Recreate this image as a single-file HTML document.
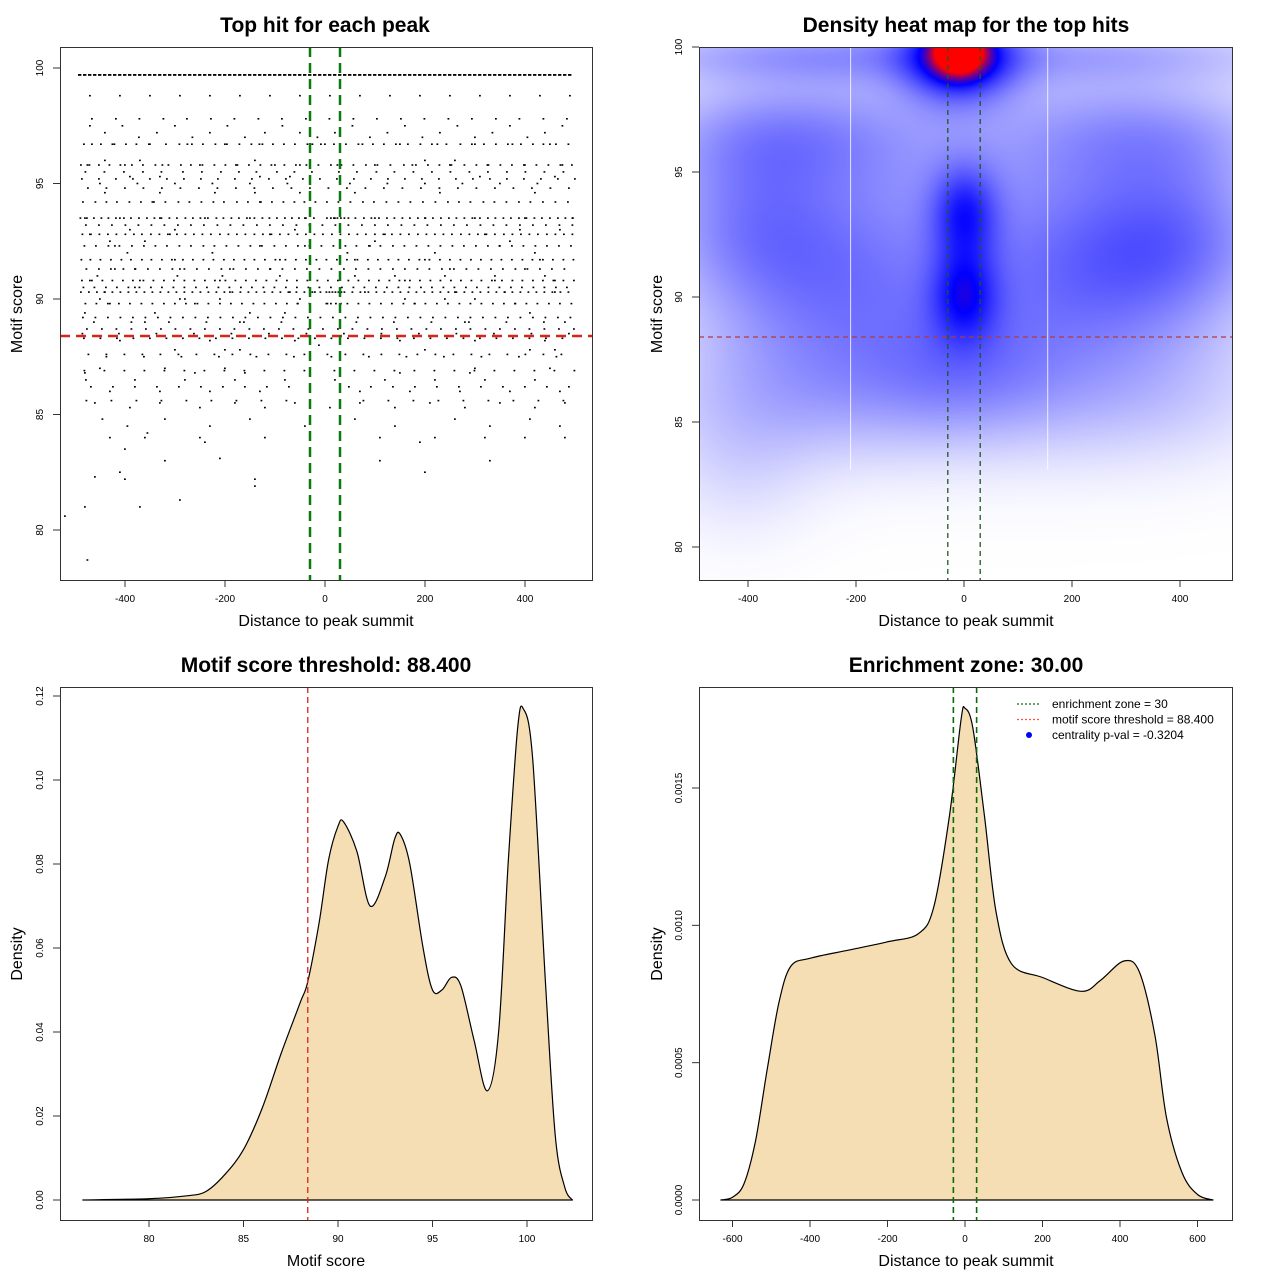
<!DOCTYPE html>
<html><head><meta charset="utf-8">
<style>
html,body{margin:0;padding:0;background:#fff;}
svg text{font-family:"Liberation Sans",Arial,sans-serif;}
#wrap{position:relative;width:1280px;height:1280px;}
#heat{position:absolute;left:699px;top:47px;}
#main{position:absolute;left:0;top:0;}
</style></head>
<body>
<div id="wrap">
<canvas id="heat" width="533" height="533"></canvas>
<svg id="main" width="1280" height="1280" xmlns="http://www.w3.org/2000/svg"></svg>
</div>
<script>
// ---------- data ----------
const scatterX = [-480,-470,-455,-440,-430,-410,-395,-380,-360,-345,-330,-310,-295,-280,-260,-240,-225,-205,-190,-170,-150,-130,-110,-90,-70,-55,-40,-20,5,20,45,60,80,100,120,140,160,180,200,220,240,260,280,300,320,340,360,380,400,420,440,460,480,495,
-475,-450,-425,-400,-375,-350,-325,-300,-275,-250,-225,-200,-175,-150,-125,-100,-75,-50,-25,0,25,50,75,100,125,150,175,200,225,250,275,300,325,350,375,400,425,450,475,
-485,-462,-437,-412,-387,-362,-337,-312,-287,-262,-237,-212,-187,-162,-137,-112,-87,-62,-37,-12,13,38,63,88,113,138,163,188,213,238,263,288,313,338,363,388,413,438,463,488,
-470,-440,-405,-372,-336,-300,-265,-230,-195,-160,-120,-85,-50,-15,20,55,90,125,160,195,230,265,300,335,370,405,440,475,
-478,-430,-380,-330,-280,-230,-180,-130,-80,-30,20,70,120,170,220,270,320,370,420,470,
-470,-410,-350,-290,-230,-170,-110,-50,10,70,130,190,250,310,370,430,490,
-460,-390,-330,-250,-180,-120,-60,10,70,140,210,280,350,420,480,
-445,-395,-320,-230,-150,-40,60,140,260,330,410,470,
-430,-360,-250,-120,110,220,320,400,480,
-420,-300,-130,-90,-40,60,90,200,350,430,
-470,-370,-210,160,340,460,
-440,-330,-220,-140,-50,30,60,230,420,
-390,-300,-60,390,470,
-420,-380,-290,-190,-110,250,400,
-480,-340,-150,-80,410,
-450,-290,-210,-50,240,300,
-430,-360,100,370,
-410,-230,-60,150,300,440,
-450,-320,-200,300,450,
-440,-370,-140,200,260,
-390,-330,-130,-70,310,460,
-300,-200,-170,200,410,460,
-480,-260,-160,150,290,
-320,110,330,
-410,-140,200,
-355,190,
-400,-240,
-460,-210,
-400,-140,
-480,-290,
-370,
-520,
-475];
const scatterY = [93.5,92.8,91,90.3,89.8,93.5,92,90.5,89,94.2,93.5,92.8,91,90,89.8,93.5,92,91,90.3,89,93.5,94.2,92.8,91,90.3,89.8,93.5,90.3,89.8,93.5,92,91,90.3,93.5,92.8,91,90,89.8,93.5,92,91,90.3,89,93.5,92.8,91,90.3,89.8,93.5,92,91,90.3,89,93.5,
95.8,95,96.7,95.8,95,96.7,95.8,95,96.7,95.8,95,96.7,95.8,95,96.7,95.8,95,95.8,96.7,96.7,95.8,95,96.7,95.8,95,96.7,95.8,95,96.7,95.8,95,96.7,95.8,95,96.7,95.8,95,96.7,95.8,
88.5,89,87.5,88.5,89,87.5,88.5,89,87.5,88.5,89,87.5,88.5,89,87.5,88.5,89,87.5,88.5,88,87.5,88.5,89,87.5,88.5,89,87.5,88.5,89,87.5,88.5,89,87.5,88.5,89,87.5,88.5,89,87.5,88.5,
97.5,97.2,97.5,97,97.2,97.5,97,97.2,97.5,97,97.2,97.5,97.2,97,97.2,97.5,97,97.2,97.5,97,97.2,97.5,97,97.2,97.5,97,97.2,97.5,
86.5,86,86.5,86,86.5,86,86.5,86,86.5,86,86.5,86,86.5,86,86.5,86,86.5,86,86.5,86,
98.8,98.8,98.8,98.8,98.8,98.8,98.8,98.8,98.8,98.8,98.8,98.8,98.8,98.8,98.8,98.8,98.8,
85.5,85.3,85.5,85.3,85.5,85.3,85.5,85.3,85.5,85.3,85.5,85.3,85.5,85.3,85.5,
84.8,84.5,84.8,84.5,84.8,84.5,84.8,84.5,84.8,84.5,84.8,84.5,
84,84,84,84,84,84,84,84,84,
92.3,91.7,92.3,91.7,92.3,91.7,92.3,91.7,92.3,91.7,
90.8,90.8,90.8,90.8,90.8,90.8,
94.6,94.6,94.6,94.6,94.6,94.6,94.6,94.6,94.6,
93,93,93,93,93,
91.3,91.3,91.3,91.3,91.3,91.3,91.3,
89.4,89.4,89.4,89.4,89.4,
90,90,90,90,90,90,
92.5,92.5,92.5,92.5,
88.2,88.2,88.2,88.2,88.2,88.2,
87,87,87,87,87,
96,96,96,96,96,
95.3,95.3,95.3,95.3,95.3,95.3,
87.8,87.8,87.8,87.8,87.8,87.8,
86.8,86.8,86.8,86.8,86.8,
83,83,83,
82.5,82.2,82.5,
84.2,83.8,
83.5,83.8,
82.3,83.1,
82.2,81.9,
81,81.3,
81,
80.6,
78.7];
// extra hits grouped by score level (score, then x positions)
const rowScores = [96.7,95.8,95.5,94.2,93.5,93.2,92.8,92.3,91.7,91.3,90.8,90.5,90.3,89.8,89.2,88.7,88.3,87.6,86.9,86.2,85.6,95.2,94.8,97.8];
const rowXs = [
"-482 -466 -448 -421 -398 -377 -352 -318 -291 -266 -244 -219 -196 -171 -147 -131 -104 -82 -60 -35 -8 18 42 67 96 118 142 166 191 214 243 271 294 318 342 366 392 416 437 462 487",
"-488 -471 -452 -431 -409 -386 -364 -339 -313 -288 -268 -245 -221 -199 -178 -152 -129 -107 -81 -58 -37 -13 12 33 57 82 105 131 158 182 206 229 253 279 303 327 351 374 398 423 447 471 494",
"-479 -441 -402 -364 -327 -284 -246 -208 -172 -137 -96 -61 -26 28 64 103 139 177 214 251 289 326 364 401 439 477",
"-484 -459 -437 -416 -391 -368 -342 -319 -293 -271 -247 -223 -202 -176 -154 -128 -106 -83 -61 -41 -19 4 27 51 76 98 123 147 171 196 221 246 268 291 317 339 363 388 411 436 461 486",
"-489 -476 -462 -447 -433 -418 -402 -388 -372 -356 -341 -327 -311 -296 -279 -264 -249 -234 -217 -203 -187 -172 -156 -141 -125 -111 -96 -80 -66 -52 -38 -22 4 12 18 25 32 39 47 61 78 93 108 124 139 155 170 186 201 216 232 248 263 279 295 310 326 341 357 372 388 403 419 434 450 466 481 496",
"-478 -452 -426 -399 -373 -347 -321 -294 -268 -242 -215 -189 -163 -136 -110 -84 -57 -31 -5 21 47 74 100 126 153 179 205 232 258 284 311 337 363 390 416 442 469 495",
"-485 -468 -451 -434 -417 -399 -382 -366 -348 -331 -314 -296 -279 -262 -245 -228 -210 -193 -176 -159 -141 -124 -107 -90 -73 -55 -38 -21 -4 14 31 48 65 82 100 117 134 151 168 186 203 220 237 254 272 289 306 323 340 358 375 392 409 426 444 461 478 495",
"-481 -458 -433 -411 -386 -362 -339 -316 -291 -268 -243 -221 -197 -173 -149 -126 -101 -78 -54 -31 -7 17 41 63 88 111 136 159 183 207 231 255 278 302 326 349 374 397 421 444 468 492",
"-487 -469 -449 -428 -407 -388 -366 -347 -326 -306 -284 -264 -243 -223 -202 -182 -161 -141 -120 -99 -79 -58 -38 -17 3 24 44 65 86 106 127 147 168 189 209 230 250 271 292 312 333 353 374 395 415 436 456 477 497",
"-477 -452 -428 -403 -379 -354 -330 -305 -281 -256 -232 -207 -183 -158 -134 -109 -85 -60 -36 -11 13 38 62 87 111 136 160 185 209 234 258 283 307 332 356 381 405 430 454 479",
"-486 -466 -445 -425 -404 -384 -363 -343 -322 -302 -281 -261 -240 -220 -199 -179 -158 -138 -117 -97 -76 -56 -35 -15 6 26 47 67 88 108 129 149 170 190 211 231 252 272 293 313 334 354 375 395 416 436 457 477 498",
"-483 -461 -438 -416 -393 -371 -348 -326 -303 -281 -258 -236 -213 -191 -168 -146 -123 -101 -78 -56 -33 -11 12 34 57 79 102 124 147 169 192 214 237 259 282 304 327 349 372 394 417 439 462 484",
"-488 -472 -456 -441 -425 -409 -393 -377 -361 -345 -329 -313 -297 -281 -265 -249 -233 -217 -201 -185 -169 -153 -137 -121 -105 -89 -73 -57 -41 -25 -9 3 9 15 21 27 33 39 55 71 87 103 119 135 151 167 183 199 215 231 247 263 279 295 311 327 343 359 375 391 407 423 439 455 471 487",
"-479 -457 -434 -412 -390 -367 -345 -322 -300 -278 -255 -233 -210 -188 -166 -143 -121 -98 -76 -54 -31 3 12 22 32 45 67 89 112 134 157 179 201 224 246 269 291 313 336 358 381 403 425 448 470 493",
"-484 -459 -434 -409 -384 -359 -334 -309 -284 -259 -234 -209 -184 -159 -134 -109 -84 -59 -34 -9 16 41 66 91 116 141 166 191 216 241 266 291 316 341 366 391 416 441 466 491",
"-476 -446 -417 -387 -358 -328 -299 -269 -240 -210 -181 -151 -122 -92 -63 -33 -4 26 55 85 114 144 173 203 232 262 291 321 350 380 409 439 468 498",
"-482 -449 -416 -383 -350 -317 -284 -251 -218 -185 -152 -119 -86 -53 -20 13 46 79 112 145 178 211 244 277 310 343 376 409 442 475",
"-473 -437 -401 -365 -329 -293 -257 -221 -185 -149 -113 -77 -41 5 41 77 113 149 185 221 257 293 329 365 401 437 473",
"-481 -441 -401 -361 -321 -281 -241 -201 -161 -121 -81 -41 19 59 99 139 179 219 259 299 339 379 419 459 499",
"-468 -424 -380 -336 -292 -248 -204 -160 -116 -72 48 92 136 180 224 268 312 356 400 444 488",
"-477 -427 -377 -327 -277 -227 -177 -127 -77 77 127 177 227 277 327 377 427 477",
"-486 -452 -418 -384 -350 -316 -282 -248 -214 -180 -146 -112 -78 -44 -10 24 58 92 126 160 194 228 262 296 330 364 398 432 466 500",
"-474 -437 -400 -363 -326 -289 -252 -215 -178 -141 -104 -67 -30 7 44 81 118 155 192 229 266 303 340 377 414 451 488",
"-466 -418 -371 -323 -276 -228 -181 -133 -86 -38 9 57 104 152 199 247 294 342 389 437 484"];
const topRowX = [-490,-480,-470,-460,-450,-440,-430,-420,-410,-400,-390,-380,-370,-360,-350,-340,-330,-320,-310,-300,-290,-280,-270,-260,-250,-240,-230,-220,-210,-200,-190,-180,-170,-160,-150,-140,-130,-120,-110,-100,-90,-80,-70,-60,-50,-40,-30,-20,-10,0,10,20,30,40,50,60,70,80,90,100,110,120,130,140,150,160,170,180,190,200,210,220,230,240,250,260,270,280,290,300,310,320,330,340,350,360,370,380,390,400,410,420,430,440,450,460,470,480,490];
const topRowScore = 99.7;

const scoreGrid = [76.5,80,82,83,84,85,86,87,88,88.4,89,89.5,90,90.3,91,91.7,92.5,93,93.3,93.8,94.5,95,95.5,96,96.5,97.2,97.9,98.5,99,99.5,99.8,100.3,101,101.5,102,102.4];
const scoreDensity = [0,0.0003,0.001,0.002,0.006,0.012,0.022,0.035,0.047,0.052,0.066,0.081,0.089,0.090,0.083,0.070,0.077,0.086,0.087,0.080,0.060,0.050,0.050,0.053,0.051,0.038,0.026,0.040,0.080,0.112,0.117,0.105,0.050,0.015,0.003,0];

const distGrid = [-630,-600,-570,-540,-510,-480,-450,-400,-300,-200,-120,-80,-40,-10,0,20,50,80,120,200,300,350,410,450,490,520,560,600,640];
const distDensity = [0,0.00001,0.00006,0.00022,0.00048,0.00072,0.00085,0.00088,0.00091,0.00094,0.00097,0.00107,0.0014,0.00175,0.00179,0.00172,0.0014,0.00105,0.00086,0.00081,0.00076,0.0008,0.00087,0.00083,0.0006,0.0003,0.0001,0.00002,0];

// heatmap kernel centers: distance, score, amplitude, spreads
const blobX = [-10,-10,0,0,-400,400,-250,250,-350,350,-300,300,-300,300,-420,0,0];
const blobY = [99.9,99.6,93.4,90.1,93,92.5,90,90.5,96.5,96.5,99.7,99.7,86,86,83,87,94];
const blobA = [1.45,0.85,0.48,0.48,0.28,0.3,0.3,0.32,0.3,0.26,0.28,0.2,0.22,0.18,0.1,0.25,0.3];
const blobSX = [30,70,42,42,130,130,170,170,170,170,260,260,200,200,100,130,320];
const blobSY = [0.6,1.2,1.3,1.3,2.2,2.2,2.6,2.6,1.6,1.6,0.8,0.8,2,2,2,2,4.5];

const enrichZone = 30, threshold = 88.4;

// ---------- helpers ----------
const NS = "http://www.w3.org/2000/svg";
const svg = document.getElementById('main');
function el(tag, attrs, parent, text){
  const e = document.createElementNS(NS, tag);
  for (const k in attrs) e.setAttribute(k, attrs[k]);
  if (text !== undefined) e.textContent = text;
  (parent||svg).appendChild(e);
  return e;
}
function lin(d0,d1,r0,r1){return v=>r0+(v-d0)*(r1-r0)/(d1-d0);}
function smoothPath(p){
  let d = `M${p[0][0].toFixed(1)},${p[0][1].toFixed(1)}`;
  for (let i=0;i<p.length-1;i++){
    const p0=p[Math.max(i-1,0)], p1=p[i], p2=p[i+1], p3=p[Math.min(i+2,p.length-1)];
    const c1x=p1[0]+(p2[0]-p0[0])/6, c1y=p1[1]+(p2[1]-p0[1])/6;
    const c2x=p2[0]-(p3[0]-p1[0])/6, c2y=p2[1]-(p3[1]-p1[1])/6;
    d += ` C${c1x.toFixed(1)},${c1y.toFixed(1)} ${c2x.toFixed(1)},${c2y.toFixed(1)} ${p2[0].toFixed(1)},${p2[1].toFixed(1)}`;
  }
  return d;
}
function frame(g, x0,y0,x1,y1){
  const r = el('rect',{x:x0+0.5,y:y0+0.5,width:x1-x0,height:y1-y0,fill:'none',stroke:'#333','stroke-width':1},g);
  
  
}
function title(x,y,t,name){
  const e = el('text',{x:x,y:y,'text-anchor':'middle','font-size':21,'font-weight':'bold',fill:'#000'},svg,t);
  
  
}
function xlabel(x,y,t){
  const e = el('text',{x:x,y:y,'text-anchor':'middle','font-size':16,fill:'#000'},svg,t);
  
  
}
function ylabel(x,y,t){
  const e = el('text',{x:x,y:y,'text-anchor':'middle','font-size':16,fill:'#000',transform:`rotate(-90 ${x} ${y})`},svg,t);
  
  
}
function xticks(ticks, sx, yb, fmt){
  const g = el('g',{});
  
  
  ticks.forEach(t=>{
    const x = sx(t);
    el('line',{x1:x,y1:yb,x2:x,y2:yb+7,stroke:'#333'},g);
    const tx = el('text',{x:x,y:yb+22,'text-anchor':'middle','font-size':10,fill:'#000'},g,fmt?fmt(t):t);
    
    
  });
}
function yticks(ticks, sy, xl, fmt){
  const g = el('g',{});
  
  
  ticks.forEach(t=>{
    const y = sy(t);
    el('line',{x1:xl-7,y1:y,x2:xl,y2:y,stroke:'#333'},g);
    const xx = xl-17;
    const tx = el('text',{x:xx,y:y,'text-anchor':'middle','font-size':10,fill:'#000',transform:`rotate(-90 ${xx} ${y})`},g,fmt?fmt(t):t);
    
    
  });
}

// ---------- panel 1: scatter ----------
{
  const sx = lin(0,400,325,525), sy = lin(100,80,68,530);
  title(325,32,'Top hit for each peak','scatter-title');
  const g = el('g',{});
  
  
  function dot(x,y){
    const p = el('rect',{x:(sx(x)-1).toFixed(1),y:(sy(y)-0.8).toFixed(1),width:1.8,height:1.6,fill:'#000'},g);
    
    
  }
  for (let i=0;i<scatterX.length;i++) dot(scatterX[i],scatterY[i]);
  rowScores.forEach((s,i)=>{ rowXs[i].split(' ').forEach(v=>dot(+v,s)); });
  topRowX.forEach(v=>{
    const p = el('rect',{x:sx(v)-2,y:sy(topRowScore)-0.9,width:3.4,height:1.8,fill:'#000'},g);
    
    
  });
  const h = el('line',{x1:60,x2:592,y1:sy(threshold),y2:sy(threshold),stroke:'#e0201f','stroke-width':2.5,'stroke-dasharray':'10,6'});
  
  
  [-enrichZone,enrichZone].forEach(v=>{
    const l = el('line',{x1:sx(v),x2:sx(v),y1:47,y2:580,stroke:'#0a7a0a','stroke-width':2.5,'stroke-dasharray':'10,6'});
    
    
  });
  frame(svg,60,47,592,580);
  xticks([-400,-200,0,200,400],sx,580);
  yticks([80,85,90,95,100],sy,60);
  xlabel(326,626,'Distance to peak summit');
  ylabel(22,314,'Motif score');
}

// ---------- panel 2: heatmap ----------
{
  const sx = lin(0,200,964,1072), sy = lin(100,80,47,547);
  title(966,32,'Density heat map for the top hits','heatmap-title');
  const c = document.getElementById('heat').getContext('2d');
  const img = c.createImageData(533,533);
  const ox=699, oy=47;
  for (let py=0;py<533;py++){
    const score = 100 + (py+oy-47)*(-20/500);
    for (let px=0;px<533;px++){
      const d = (px+ox-964)*200/108;
      let f=0;
      for (let k=0;k<blobX.length;k++){
        const dx=(d-blobX[k])/blobSX[k], dy=(score-blobY[k])/blobSY[k];
        f += blobA[k]*Math.exp(-0.5*(dx*dx+dy*dy));
      }
      let r,g,b;
      if (f<=0.95){ const t=f/0.95; r=255*(1-t); g=255*(1-t); b=255; }
      else { const uu=Math.min((f-0.95)/0.6,1); r=255*uu; g=0; b=255*(1-uu); }
      const i=(py*533+px)*4;
      img.data[i]=r; img.data[i+1]=g; img.data[i+2]=b; img.data[i+3]=255;
    }
  }
  c.putImageData(img,0,0);
  [-210,155].forEach(v=>{
    const l = el('line',{x1:sx(v),x2:sx(v),y1:47,y2:470,stroke:'#fff','stroke-width':1,opacity:0.8});
    
    
  });
  [-enrichZone,enrichZone].forEach(v=>{
    const l = el('line',{x1:sx(v),x2:sx(v),y1:47,y2:580,stroke:'#1d5a1d','stroke-width':1.3,'stroke-dasharray':'5,4'});
    
    
  });
  const h = el('line',{x1:699,x2:1232,y1:sy(threshold),y2:sy(threshold),stroke:'#b23b3b','stroke-width':1.3,'stroke-dasharray':'5,4'});
  
  
  frame(svg,699,47,1232,580);
  xticks([-400,-200,0,200,400],sx,580);
  yticks([80,85,90,95,100],sy,699);
  xlabel(966,626,'Distance to peak summit');
  ylabel(662,314,'Motif score');
}

// ---------- panel 3: score density ----------
{
  const sx = lin(80,100,149,527), sy = lin(0,0.12,1200,696);
  title(326,672,'Motif score threshold: 88.400','score-density-title');
  const pts = scoreGrid.map((v,i)=>[sx(v),sy(scoreDensity[i])]);
  const a = el('path',{d:smoothPath(pts)+' Z',fill:'#f5deb3',stroke:'#000','stroke-width':1.2,'stroke-linejoin':'round'});
  
  
  const v = el('line',{x1:sx(threshold),x2:sx(threshold),y1:687,y2:1220,stroke:'#e0201f','stroke-width':1.3,'stroke-dasharray':'6,4'});
  
  
  frame(svg,60,687,592,1220);
  xticks([80,85,90,95,100],sx,1220);
  yticks([0,0.02,0.04,0.06,0.08,0.10,0.12],sy,60,t=>t.toFixed(2));
  xlabel(326,1266,'Motif score');
  ylabel(22,954,'Density');
}

// ---------- panel 4: distance density ----------
{
  const sx = lin(0,200,965,1042.5), sy = lin(0,0.0015,1200,788);
  title(966,672,'Enrichment zone: 30.00','distance-density-title');
  const pts = distGrid.map((v,i)=>[sx(v),sy(distDensity[i])]);
  const a = el('path',{d:smoothPath(pts)+' Z',fill:'#f5deb3',stroke:'#000','stroke-width':1.2,'stroke-linejoin':'round'});
  
  
  [-enrichZone,enrichZone].forEach(v=>{
    const l = el('line',{x1:sx(v),x2:sx(v),y1:687,y2:1220,stroke:'#0a6a0a','stroke-width':1.6,'stroke-dasharray':'6,4'});
    
    
  });
  frame(svg,699,687,1232,1220);
  xticks([-600,-400,-200,0,200,400,600],sx,1220);
  yticks([0,0.0005,0.001,0.0015],sy,699,t=>t.toFixed(4));
  xlabel(966,1266,'Distance to peak summit');
  ylabel(662,954,'Density');
  const lg = el('g',{});
  
  
  const items = [['#0a6a0a','enrichment zone = 30','line'],['#ff5050','motif score threshold = 88.400','line'],['#0000ff','centrality p-val = -0.3204','dot']];
  items.forEach((it,i)=>{
    const y = 704+i*15.5;
    const e = el('g',{},lg);
    
    
    if (it[2]==='line') el('line',{x1:1017,x2:1041,y1:y,y2:y,stroke:it[0],'stroke-width':1.2,'stroke-dasharray':'2,2'},e);
    else el('circle',{cx:1029,cy:y,r:3,fill:it[0]},e);
    el('text',{x:1052,y:y+4,'font-size':12,fill:'#000'},e,it[1]);
  });
}
</script>
</body></html>
